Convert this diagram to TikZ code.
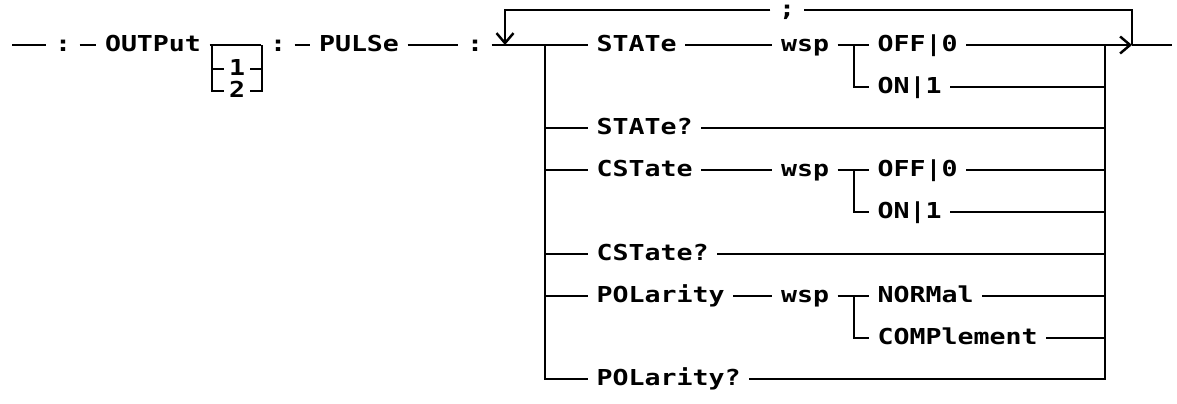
\documentclass[tikz,border=0pt]{standalone}
\usepackage{fontspec}
\newfontfamily\railfont[FakeStretch=1.21]{DejaVu Sans Mono}
\usetikzlibrary{arrows.meta}
\begin{document}
\begin{tikzpicture}[x=0.02cm,y=-0.02cm,line width=1.4pt,
    every node/.style={font=\railfont\bfseries\fontsize{12.5}{13}\selectfont,inner xsep=0.15cm,inner ysep=0pt,text height=0.73em,text depth=0pt},
    word/.style={anchor=west},
    flow/.style={-{Straight Barb[length=0.2cm,width=0.34cm]}}]
          \useasboundingbox (0,0) rectangle (1177,403);
          \coordinate (start) at (12,45);
          \node (c1) at (63,45) {:};
          \node (out) at (153,45) {OUTPut};
          \coordinate (bl) at (212,45);
          \coordinate (br) at (262,45);
          \node[inner xsep=0.08cm] (one) at (237,69) {1};
          \node[inner xsep=0.08cm] (two) at (237,91) {2};
          \node (c2) at (278,45) {:};
          \node (pulse) at (359,45) {PULSe};
          \node (c3) at (475,45) {:};
          \coordinate (loopin) at (505,45);
          \coordinate (split) at (545,45);
          \coordinate (join) at (1105,45);
          \coordinate (loopout) at (1132,45);
          \coordinate (end) at (1172,45);
          \node (semi) at (787,10) {;};

          \node[word] (state) at (588,45) {STATe};
          \node (wsp1) at (805,45) {wsp};
          \coordinate (sb1) at (854,45);
          \node[word] (off1) at (869,45) {OFF|0};
          \node[word] (on1) at (869,87) {ON|1};
          \node[word] (stateq) at (588,128) {STATe?};
          \node[word] (cstate) at (588,170) {CSTate};
          \node (wsp2) at (805,170) {wsp};
          \coordinate (sb2) at (854,170);
          \node[word] (off2) at (869,170) {OFF|0};
          \node[word] (on2) at (869,212) {ON|1};
          \node[word] (cstateq) at (588,254) {CSTate?};
          \node[word] (pol) at (588,296) {POLarity};
          \node (wsp3) at (805,296) {wsp};
          \coordinate (sb3) at (854,296);
          \node[word] (normal) at (869,296) {NORMal};
          \node[word] (comp) at (869,338) {COMPlement};
          \node[word] (polq) at (588,379) {POLarity?};

          \draw (start) -- (c1) -- (out) -- (c2) -- (pulse) -- (c3) -- (split) -- (state) -- (wsp1) -- (sb1) -- (off1) -- (join);
          \draw (bl) |- (one);
          \draw (bl) |- (two);
          \draw (br) |- (one);
          \draw (br) |- (two);
          \draw[flow] (join) -- (loopout);
          \draw (loopout) -- (end);
          \draw (loopout) |- (semi);
          \draw[flow] (semi) -| (loopin);

          \draw (split) |- (polq) -- (polq -| join);
          \draw (join) |- (polq);
          \draw (sb1) |- (on1) -- (on1 -| join);
          \draw (stateq -| split) -- (stateq) -- (stateq -| join);
          \draw (cstate -| split) -- (cstate) -- (wsp2) -- (sb2) -- (off2) -- (off2 -| join);
          \draw (sb2) |- (on2) -- (on2 -| join);
          \draw (cstateq -| split) -- (cstateq) -- (cstateq -| join);
          \draw (pol -| split) -- (pol) -- (wsp3) -- (sb3) -- (normal) -- (normal -| join);
          \draw (sb3) |- (comp) -- (comp -| join);
        \end{tikzpicture}
\end{document}
